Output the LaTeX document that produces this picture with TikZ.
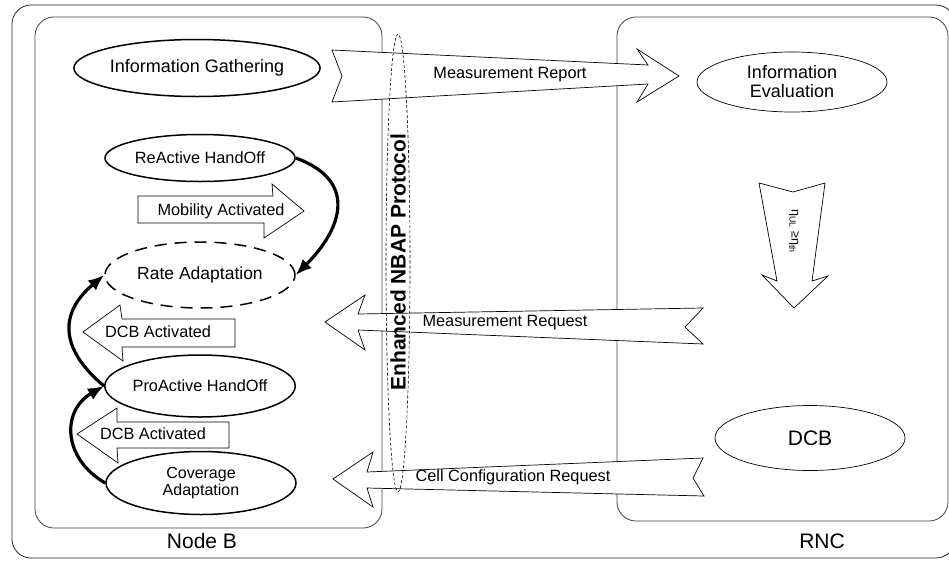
\documentclass[tikz,border=0pt]{standalone}
\usepackage{fontspec}
\setmainfont{Liberation Sans}
\usetikzlibrary{shapes.geometric,arrows.meta}

\begin{document}
\begin{tikzpicture}[x=1pt,y=-1pt,
  frame/.style={draw=black!75, line width=0.8pt, rounded corners=19pt},
  thickproc/.style={ellipse, draw, line width=1.5pt, inner sep=0pt, align=center},
  thinproc/.style={ellipse, draw, line width=0.7pt, inner sep=0pt, align=center},
  blockarrow/.style={draw, fill=white, line width=0.7pt, line join=miter},
  flow/.style={line width=3.2pt, -{Latex[length=16pt,width=13pt]}},
  txtsmall/.style={font=\fontsize{16.3}{18.5}\selectfont, inner sep=0pt, align=center},
  txtmid/.style={font=\fontsize{18}{19}\selectfont, inner sep=0pt, align=center},
  txtbig/.style={font=\fontsize{21}{24}\selectfont, inner sep=0pt}
]
\path[use as bounding box] (0,0) rectangle (949,560);
\clip (0,0) rectangle (949,560);

% containers
\draw[frame, draw=black!85] (12,5) rectangle (955,558);
\draw[frame] (35,17) rectangle (382,528);
\draw[frame] (617,17) rectangle (948,521);
\node[txtbig] (nodeb) at (202,541) {Node B};
\node[txtbig] (rnc) at (822,541) {RNC};

% messages crossing the interface
\draw[blockarrow] (332,50) -- (648,65) -- (637,49) -- (679,76) -- (637,102)
  -- (648,84) -- (332,102) -- (342,76) -- cycle;
\draw[blockarrow] (325,322) -- (365,295) -- (358,314) -- (703,308) -- (685,327)
  -- (703,344) -- (358,330) -- (365,350) -- cycle;
\draw[blockarrow] (333,479) -- (373,452) -- (367,472) -- (703,458) -- (693,478)
  -- (704,496) -- (367,488) -- (373,507) -- cycle;

% threshold test inside the RNC
\draw[blockarrow] (759,183) -- (793,192) -- (825,183) -- (812,281) -- (828,276)
  -- (794,308) -- (762,275) -- (777,281) -- cycle;

% triggers inside Node B
\draw[blockarrow] (138,196) -- (273,196) -- (272,184) -- (304,211) -- (264,238)
  -- (264,223) -- (138,223) -- cycle;
\draw[blockarrow] (83,332) -- (120,305) -- (122,319) -- (235,319) -- (235,347)
  -- (122,347) -- (123,361) -- cycle;
\draw[blockarrow] (77,434) -- (117,408) -- (117,422) -- (229,422) -- (229,448)
  -- (117,448) -- (118,463) -- cycle;

% Node B functions
\node[thickproc, minimum width=220pt, minimum height=57pt, txtmid] (gather) at (197,68) {Information Gathering};
\node[thickproc, minimum width=190pt, minimum height=47pt, txtsmall] (reactive) at (200,158) {ReActive HandOff};
\node[ellipse, draw, dashed, dash pattern=on 12pt off 8pt, line width=1.5pt, inner sep=0pt,
  minimum width=190pt, minimum height=66pt, font=\fontsize{17.5}{19}\selectfont] (rate) at (200,275) {Rate Adaptation};
\node[thickproc, minimum width=190pt, minimum height=62pt, txtsmall] (proactive) at (200,386) {ProActive HandOff};
\node[thickproc, minimum width=190pt, minimum height=63pt, font=\fontsize{16}{17.5}\selectfont] (coverage) at (201,483) {Coverage\\Adaptation};

% RNC functions
\node[thinproc, minimum width=190pt, minimum height=60pt, txtmid] (evaluation) at (792,82) {Information\\Evaluation};
\node[thinproc, minimum width=190pt, minimum height=65pt, txtbig] (dcb) at (810,438) {DCB};

% transitions between Node B functions
\draw[flow] (reactive.east) to[out=-20, in=45, looseness=1.45] (rate.east);
\draw[flow] (proactive.west) to[out=140, in=220, looseness=1.35] (rate.west);
\draw[flow] (coverage.west) to[out=150, in=210, looseness=1.3] (proactive.west);

% interface
\node[ellipse, draw, dashed, dash pattern=on 3pt off 2pt, line width=0.6pt,
  minimum width=24pt, minimum height=458pt, inner sep=0pt] (nbap) at (398,263) {};
\node[rotate=90, font=\fontsize{21}{24}\selectfont\bfseries, inner sep=0pt] (nbaplabel) at (398,262) {Enhanced NBAP Protocol};

% message and trigger labels
\node[txtsmall] (mreport) at (510,75) {Measurement Report};
\node[txtsmall] (mrequest) at (505,323) {Measurement Request};
\node[txtsmall] (cellcfg) at (513,477) {Cell Configuration Request};
\node[txtsmall] (mobility) at (221,211) {Mobility Activated};
\node[txtsmall] (dcbupper) at (158,332) {DCB Activated};
\node[txtsmall] (dcblower) at (153,434) {DCB Activated};
\node[rotate=-90, font=\fontsize{12.5}{14}\selectfont, inner sep=0pt] (threshold) at (794,231)
  {η\textsubscript{UL} ≥η\textsubscript{th}};
\end{tikzpicture}
\end{document}
